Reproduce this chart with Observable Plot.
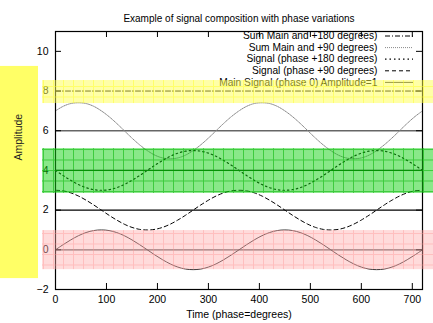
<!DOCTYPE html>
<html><head><meta charset="utf-8">
<script src="https://cdn.jsdelivr.net/npm/d3@7"></script>
<script src="https://cdn.jsdelivr.net/npm/@observablehq/plot@0.6"></script>
<style>body{margin:0;background:#fff}</style>
</head><body><div id="chart"></div>
<script>
// ---- data ----
const title = "Example of signal composition with phase variations";
const xLabel = "Time (phase=degrees)";
const yLabel = "Amplitude";
const xTicks = [0,100,200,300,400,500,600,700];
const yTicks = [-2,0,2,4,6,8,10];
const degrees = [0,15,30,45,60,75,90,105,120,135,150,165,180,195,210,225,240,255,270,285,300,315,330,345,360,
  375,390,405,420,435,450,465,480,495,510,525,540,555,570,585,600,615,630,645,660,675,690,705,720];
const mainSignal = [0,.26,.5,.71,.87,.97,1,.97,.87,.71,.5,.26,0,-.26,-.5,-.71,-.87,-.97,-1,-.97,-.87,-.71,-.5,-.26,0,
  .26,.5,.71,.87,.97,1,.97,.87,.71,.5,.26,0,-.26,-.5,-.71,-.87,-.97,-1,-.97,-.87,-.71,-.5,-.26,0];
const phase90 = [3,2.97,2.87,2.71,2.5,2.26,2,1.74,1.5,1.29,1.13,1.03,1,1.03,1.13,1.29,1.5,1.74,2,2.26,2.5,2.71,2.87,2.97,3,
  2.97,2.87,2.71,2.5,2.26,2,1.74,1.5,1.29,1.13,1.03,1,1.03,1.13,1.29,1.5,1.74,2,2.26,2.5,2.71,2.87,2.97,3];
const phase180 = [4,3.74,3.5,3.29,3.13,3.03,3,3.03,3.13,3.29,3.5,3.74,4,4.26,4.5,4.71,4.87,4.97,5,4.97,4.87,4.71,4.5,4.26,4,
  3.74,3.5,3.29,3.13,3.03,3,3.03,3.13,3.29,3.5,3.74,4,4.26,4.5,4.71,4.87,4.97,5,4.97,4.87,4.71,4.5,4.26,4];
const sum90 = [7,7.23,7.37,7.41,7.37,7.23,7,6.71,6.37,6,5.63,5.29,5,4.77,4.63,4.59,4.63,4.77,5,5.29,5.63,6,6.37,6.71,7,
  7.23,7.37,7.41,7.37,7.23,7,6.71,6.37,6,5.63,5.29,5,4.77,4.63,4.59,4.63,4.77,5,5.29,5.63,6,6.37,6.71,7];
const sum180X = [0,720];
const sum180 = [8,8];
const seriesNames = ["Sum Main and +180 degrees)","Sum Main and +90 degrees)","Signal (phase +180 degrees)","Signal (phase +90 degrees)","Main Signal (phase 0) Amplitude=1"];
const baselines = [0,2,4,6];
const bandNames = ["yellow","green","pink"];
const bandLow = [7.37,2.84,-1.0];
const bandHigh = [8.53,5.10,0.97];
const ylabelBoxLow = -1.45, ylabelBoxHigh = 9.24;

// ---- layout ----
const W=433,H=323,mT=31,mB=34,mL=55,mR=11;
const xDomain=[0,720], yDomain=[-2,11];
const pxY=(H-mT-mB)/(yDomain[1]-yDomain[0]);
const pxX=(W-mL-mR)/(xDomain[1]-xDomain[0]);
const tkY=6/pxY, tkX=6/pxX;

const styles = [
  {stroke:"#000", dash:"5,2,1,2", w:1},
  {stroke:"#888", dash:"1,1", w:1},
  {stroke:"#000", dash:"1.5,3", w:1.2},
  {stroke:"#000", dash:"4,3", w:1},
  {stroke:"#333", dash:null, w:1}
];
const seriesX = [sum180X, degrees, degrees, degrees, degrees];
const seriesY = [sum180, sum90, phase180, phase90, mainSignal];
const baseStyle = {0:"#555",2:"#000",4:"#000",6:"#666"};
const bandFill = {yellow:"url(#patY)", green:"url(#patG)", pink:"url(#patP)"};

const legendY = i => yDomain[1] - (4.5 + 11.6*i)/pxY;
const marks = [];
marks.push(Plot.rectX([0],{x1:-mL/pxX, x2:-(mL-38)/pxX, y1:ylabelBoxLow, y2:ylabelBoxHigh, fill:"#ffff66"}));
marks.push(Plot.text([yLabel],{frameAnchor:"left", dx:-37, rotate:-90, fontSize:10.5, fill:"#222"}));
marks.push(Plot.text([title],{frameAnchor:"top", dy:-17, fontSize:10, fill:"#000"}));
marks.push(Plot.text([xLabel],{frameAnchor:"bottom", dy:28, fontSize:10.5, fill:"#000"}));
marks.push(Plot.ruleY(baselines,{y:d=>d, x1:xDomain[0], x2:xDomain[1], stroke:d=>baseStyle[d], strokeWidth:1.3}));
seriesNames.forEach((n,i)=>{
  const s=styles[i];
  const data = seriesX[i].map((x,j)=>({x, y:seriesY[i][j]}));
  marks.push(Plot.line(data,{x:"x", y:"y", stroke:s.stroke, strokeWidth:s.w, strokeDasharray:s.dash, curve:"catmull-rom"}));
  marks.push(Plot.ruleY([legendY(i)],{y:d=>d, x1:xDomain[1]-37/pxX, x2:xDomain[1]-9/pxX, stroke:s.stroke, strokeWidth:s.w, strokeDasharray:s.dash}));
});
marks.push(Plot.text(seriesNames,{x:()=>xDomain[1]-45/pxX, y:(d,i)=>legendY(i), text:d=>d, textAnchor:"end", fontSize:10.2, fill:"#000"}));
marks.push(Plot.axisX({ticks:xTicks, tickSize:0, tickPadding:6, label:null, fontSize:10.5}));
marks.push(Plot.axisY({ticks:yTicks, tickSize:0, tickPadding:7, label:null, fontSize:10.5}));
marks.push(Plot.ruleX(xTicks,{x:d=>d, y1:yDomain[0], y2:yDomain[0]+tkY, stroke:"#000"}));
marks.push(Plot.ruleX(xTicks,{x:d=>d, y1:yDomain[1], y2:yDomain[1]-tkY, stroke:"#000"}));
marks.push(Plot.ruleY(yTicks,{y:d=>d, x1:xDomain[0], x2:xDomain[0]+tkX, stroke:"#000"}));
marks.push(Plot.ruleY(yTicks,{y:d=>d, x1:xDomain[1], x2:xDomain[1]-tkX, stroke:"#000"}));
marks.push(Plot.frame({stroke:"#000", strokeWidth:1.2}));
marks.push(Plot.rect(bandNames,{x1:()=>-13/pxX, x2:()=>xDomain[1]+11/pxX, y1:(d,i)=>bandLow[i], y2:(d,i)=>bandHigh[i], fill:d=>bandFill[d]}));

const svg = Plot.plot({
  width:W, height:H, marginTop:mT, marginBottom:mB, marginLeft:mL, marginRight:mR,
  x:{domain:xDomain}, y:{domain:yDomain},
  style:{fontFamily:"'Liberation Sans', Arial, sans-serif", fontSize:"10px", background:"#fff", color:"#000"},
  marks
});
const defs = d3.select(svg).insert("defs",":first-child");
function pat(id, bg, line, bgOp, lineOp){
  const p = defs.append("pattern").attr("id",id).attr("patternUnits","userSpaceOnUse")
    .attr("x",3).attr("y",2).attr("width",10).attr("height",10.5);
  p.append("rect").attr("width",10).attr("height",10.5).attr("fill",bg).attr("fill-opacity",bgOp);
  p.append("rect").attr("x",0).attr("y",0).attr("width",1).attr("height",10.5).attr("fill",line).attr("fill-opacity",lineOp);
  p.append("rect").attr("x",1).attr("y",0).attr("width",9).attr("height",1).attr("fill",line).attr("fill-opacity",lineOp);
}
pat("patY","#ffff50","#ffff20",0.5,0.45);
pat("patG","#14d214","#00b400",0.5,0.55);
pat("patP","#ffaaaa","#ff9090",0.42,0.4);
document.getElementById("chart").appendChild(svg);
</script>
</body></html>
